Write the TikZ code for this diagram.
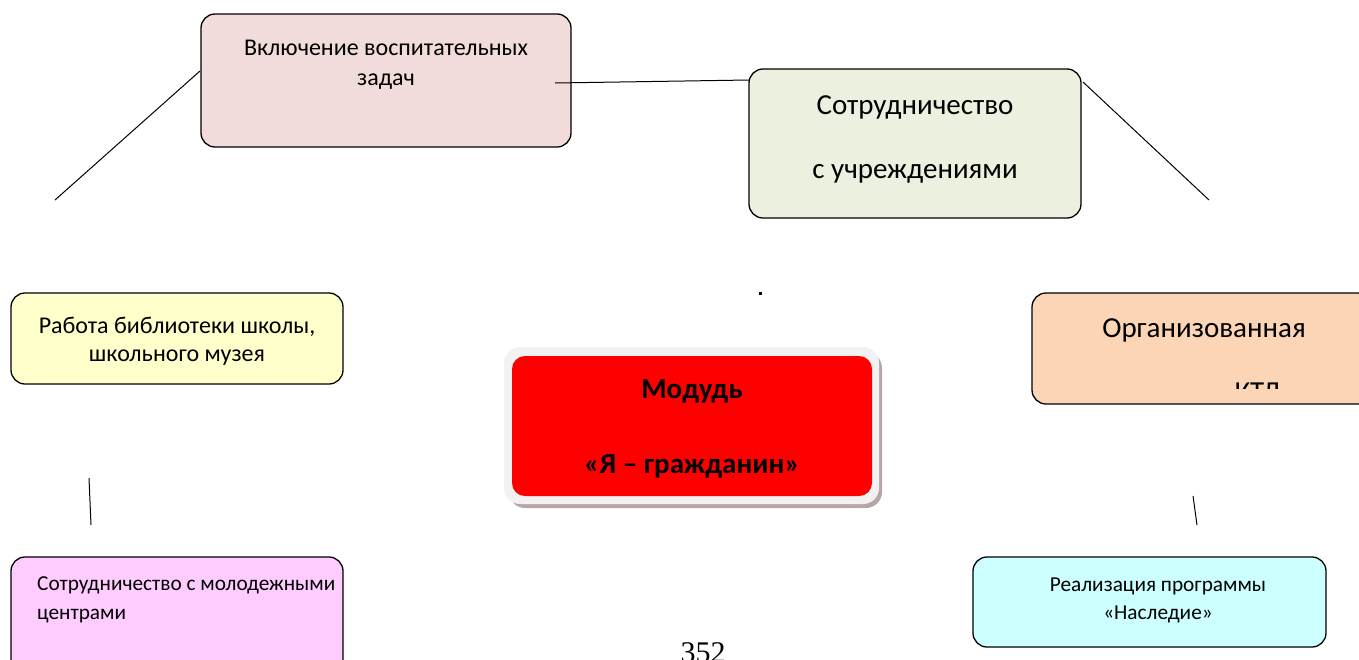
\documentclass[tikz,border=0pt]{standalone}
\usepackage{fontspec}
\setmainfont{Carlito}
\newfontfamily\timesfont{Liberation Serif}
\begin{document}
\begin{tikzpicture}[x=1pt,y=-1pt,
  box/.style={draw=black, line width=1.3pt, rounded corners=14pt, inner sep=0pt},
  conn/.style={draw=black, line width=1pt},
  txt/.style={inner sep=0pt, anchor=center},
  small/.style={font=\fontsize{21.3}{24}\selectfont},
  mid/.style={font=\fontsize{24}{28}\selectfont},
  big/.style={font=\fontsize{29}{33}\selectfont}]
\useasboundingbox (0,0) rectangle (1359,659);
% boxes
\path[box, fill={rgb,255:red,242;green,220;blue,219}] (201,14) rectangle (571,147);
\node[txt, mid] (b1a) at (386,48) {Включение воспитательных};
\node[txt, mid] (b1b) at (386,82) {задач};

\path[box, fill={rgb,255:red,235;green,241;blue,222}] (749,69) rectangle (1081,218);
\node[txt, big] (b2a) at (915,107) {Сотрудничество};
\node[txt, big] (b2b) at (915,174) {с учреждениями};

\path[box, fill={rgb,255:red,255;green,255;blue,204}] (11,293) rectangle (343,384);
\node[txt, mid] (b3a) at (177,327) {Работа библиотеки школы,};
\node[txt, mid] (b3b) at (177,358) {школьного музея};

\path[box, fill={rgb,255:red,251;green,213;blue,181}] (1032,293) rectangle (1372,404);
\node[txt, big] (b4a) at (1204,330) {Организованная};
\begin{scope}
\clip (1100,370) rectangle (1300,388);
\node[inner sep=0pt, anchor=base, big] (b4b) at (1258,401) {КТД};
\end{scope}

% center
\path[fill={rgb,255:red,185;green,165;blue,165}, rounded corners=16pt] (509,352) rectangle (882,508);
\path[fill={rgb,255:red,242;green,242;blue,242}, rounded corners=16pt] (504,347) rectangle (879,504);
\path[fill=red, rounded corners=13pt] (512,356) rectangle (872,496);
\node[txt, font=\fontsize{29}{33}\selectfont\bfseries] (c1) at (692,391) {Модудь};
\node[txt, font=\fontsize{29}{33}\selectfont\bfseries] (c2) at (692,466) {«Я – гражданин»};

\path[box, fill={rgb,255:red,255;green,204;blue,255}] (11,557) rectangle (343,675);
\node[txt, anchor=west, small] (b6a) at (37,585) {Сотрудничество с молодежными};
\node[txt, anchor=west, small] (b6b) at (37,616) {центрами};

\path[box, fill={rgb,255:red,204;green,255;blue,255}] (973,557) rectangle (1326,647);
\node[txt, small] (b7a) at (1158,586) {Реализация программы};
\node[txt, small] (b7b) at (1158,614) {«Наследие»};

% connectors
\coordinate (p1) at (555,83);
\coordinate (p2) at (749,80);
\coordinate (p3) at (200,71);
\coordinate (p4) at (55,200);
\coordinate (p5) at (1083,82);
\coordinate (p6) at (1209,200);
\coordinate (p7) at (89,478);
\coordinate (p8) at (91,525);
\coordinate (p9) at (1193,496);
\coordinate (p10) at (1197,525);
\draw[conn] (p1) -- (p2);
\draw[conn] (p3) -- (p4);
\draw[conn] (p5) -- (p6);
\draw[conn] (p7) -- (p8);
\draw[conn] (p9) -- (p10);
\fill (759,292) rectangle (762,294.5);

% page number
\node[inner sep=0pt, anchor=base, font=\timesfont\fontsize{30}{34}\selectfont] (pg) at (703,662) {352};
\end{tikzpicture}
\end{document}
